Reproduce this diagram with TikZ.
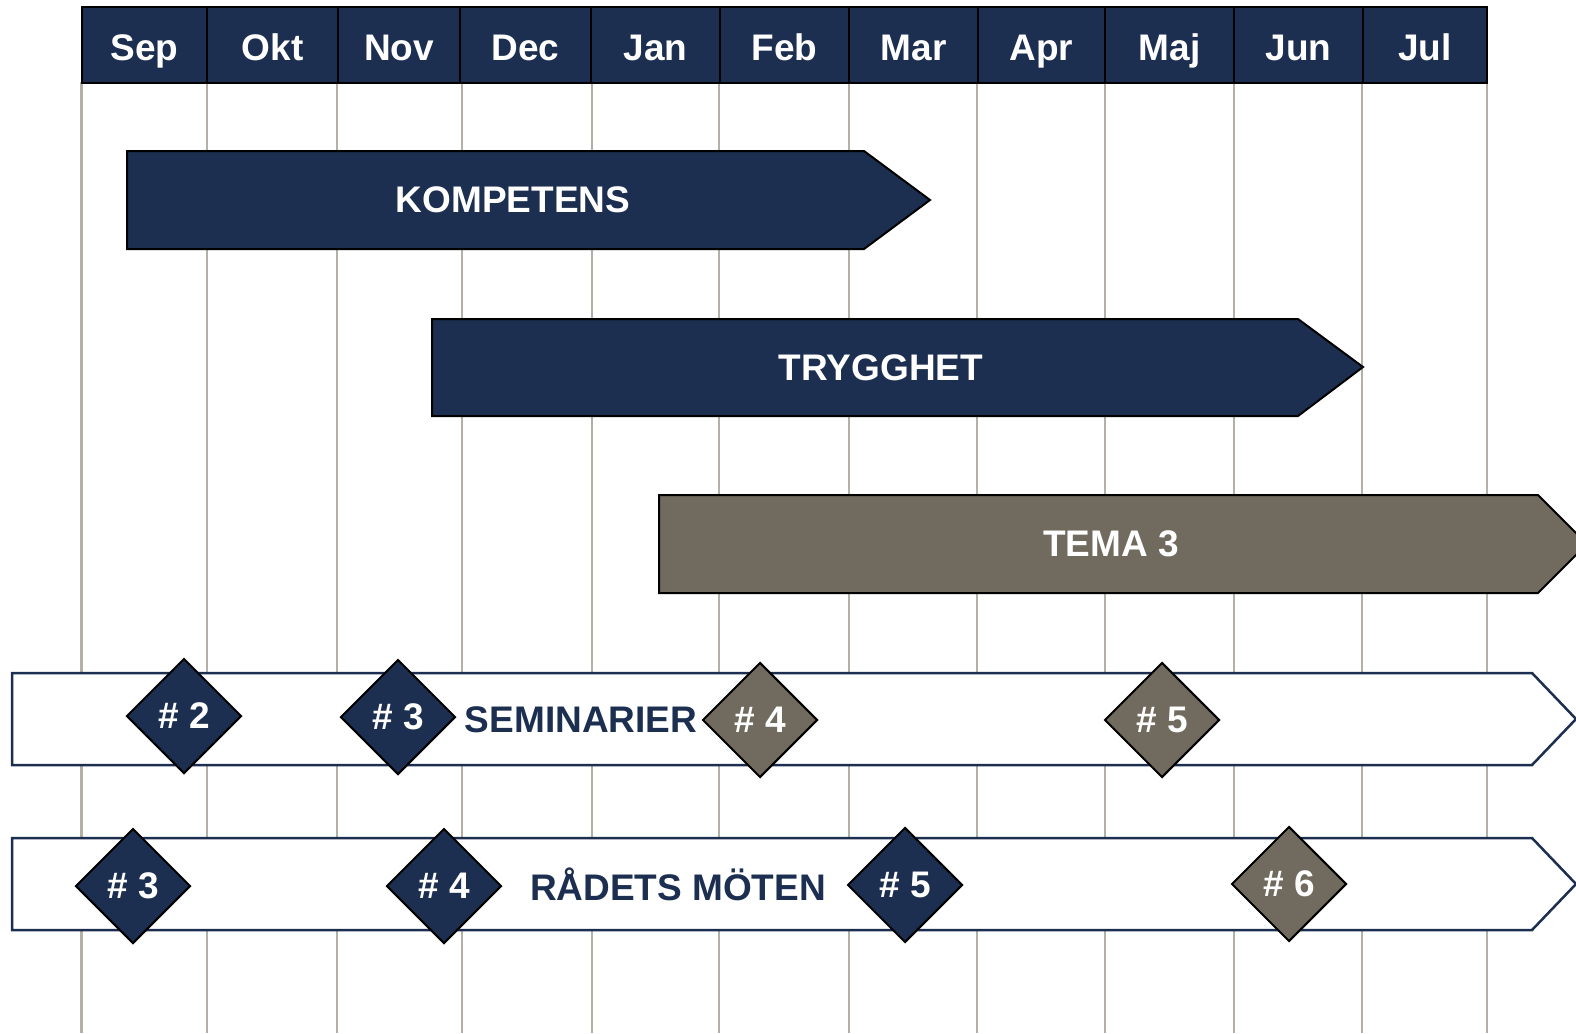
\documentclass[tikz,border=0pt]{standalone}
\usepackage{fontspec}
\setmainfont{Liberation Sans}
\usetikzlibrary{shapes.geometric}

\definecolor{navy}{RGB}{28,47,80}
\definecolor{taupe}{RGB}{113,106,94}
\definecolor{gridgray}{RGB}{180,176,166}

\tikzset{
  big/.style={font=\fontsize{37}{40}\selectfont\bfseries},
  month/.style={draw=black, line width=2pt, fill=navy},
  bar/.style={draw=black, line width=2pt},
  lane/.style={draw=navy, line width=2.5pt, fill=white},
  milestone/.style={diamond, aspect=1, draw=black, line width=2pt, minimum width=115pt, minimum height=115pt, inner sep=0pt, text=white, big},
}

\begin{document}
\begin{tikzpicture}[x=1pt, y=-1pt]
\useasboundingbox (0,0) rectangle (1576,1033);
\clip (0,0) rectangle (1576,1033);

% grid
\foreach \x in {81.5,207,337,462,592,719,849,977,1105,1234,1362,1487} \draw[gridgray, line width=2.5pt] (\x,82) -- (\x,1033);

% months
\foreach \m/\a/\b in {Sep/81.5/207, Okt/207/338, Nov/338/460, Dec/460/591, Jan/591/720, Feb/720/849, Mar/849/978, Apr/978/1105, Maj/1105/1234, Jun/1234/1363, Jul/1363/1487} {
  \draw[month] (\a,7) rectangle (\b,82.5);
  \node[big, text=white, anchor=base, inner sep=0pt] (m-\m) at ({(\a+\b)/2},60) {\m};
}

% themes
\draw[bar, fill=navy] (127,151) -- (864,151) -- (930,200) -- (864,249) -- (127,249) -- cycle;
\node[big, text=white] (kompetens) at (513,200) {KOMPETENS};
\draw[bar, fill=navy] (432,319) -- (1298,319) -- (1363,367) -- (1298,416) -- (432,416) -- cycle;
\node[big, text=white] (trygghet) at (881,368) {TRYGGHET};
\draw[bar, fill=taupe] (659,495) -- (1538,495) -- (1587,544) -- (1538,593) -- (659,593) -- cycle;
\node[big, text=white] (tema) at (1111,544) {TEMA 3};

% lanes
\draw[lane] (12,673) -- (1532,673) -- (1576,719) -- (1532,765) -- (12,765) -- cycle;
\node[big, text=navy] (seminarier) at (581,720) {SEMINARIER};
\draw[lane] (12,838) -- (1532,838) -- (1576,884) -- (1532,930) -- (12,930) -- cycle;
\node[big, text=navy] (radet) at (678,884) {RÅDETS MÖTEN};

% milestones
\node[milestone, fill=navy] (s2) at (184,716) {\# 2};
\node[milestone, fill=navy] (s3) at (398,717) {\# 3};
\node[milestone, fill=taupe] (s4) at (760,720) {\# 4};
\node[milestone, fill=taupe] (s5) at (1162,720) {\# 5};
\node[milestone, fill=navy] (r3) at (133,886) {\# 3};
\node[milestone, fill=navy] (r4) at (444,886) {\# 4};
\node[milestone, fill=navy] (r5) at (905,885) {\# 5};
\node[milestone, fill=taupe] (r6) at (1289,884) {\# 6};
\end{tikzpicture}
\end{document}
